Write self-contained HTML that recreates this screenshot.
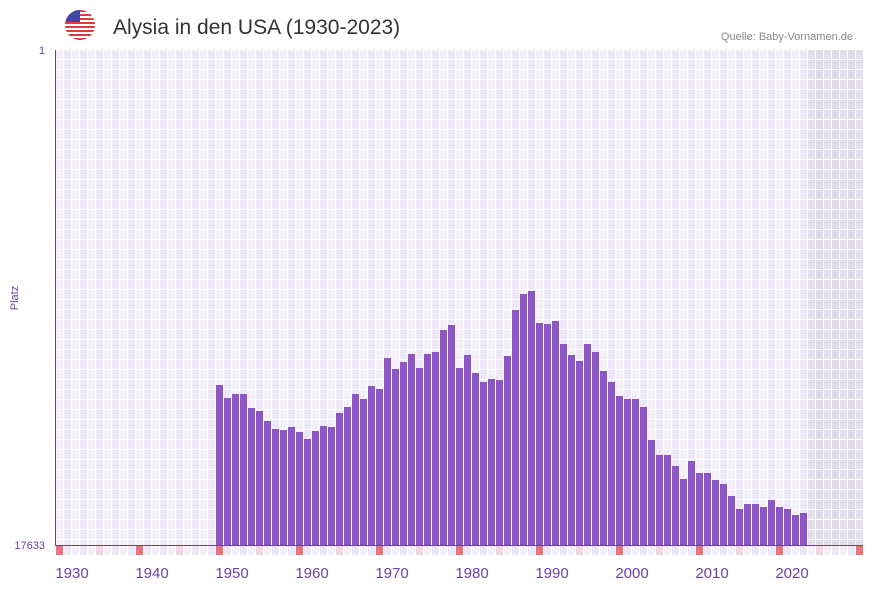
<!DOCTYPE html>
<html><head><meta charset="utf-8"><style>
body{margin:0;background:#fff;width:873px;height:587px;overflow:hidden;font-family:"Liberation Sans",sans-serif}
</style></head><body>
<svg id="s" width="873" height="587" xmlns="http://www.w3.org/2000/svg">
<defs><clipPath id="c"><circle cx="80" cy="25" r="15"/></clipPath></defs>
<g clip-path="url(#c)">
<rect x="65" y="10" width="30" height="30" fill="#fff"/>
<rect x="65" y="10" width="30" height="2" fill="#e03a3e"/>
<rect x="65" y="14" width="30" height="2" fill="#e03a3e"/>
<rect x="65" y="18" width="30" height="2" fill="#e03a3e"/>
<rect x="65" y="22" width="30" height="2" fill="#e03a3e"/>
<rect x="65" y="26" width="30" height="2" fill="#e03a3e"/>
<rect x="65" y="30" width="30" height="2" fill="#e03a3e"/>
<rect x="65" y="34" width="30" height="2" fill="#e03a3e"/>
<rect x="65" y="38" width="30" height="2" fill="#e03a3e"/>
<rect x="65" y="10" width="15" height="12" fill="#3c4a9c"/>
</g>
<text x="113" y="34" font-size="21" fill="#333">Alysia in den USA (1930-2023)</text>
<text x="853" y="40" font-size="11" fill="#888" text-anchor="end">Quelle: Baby-Vornamen.de</text>
<text x="45" y="54" font-size="11" fill="#6b3fa0" text-anchor="end">1</text>
<text x="45" y="549" font-size="11" fill="#6b3fa0" text-anchor="end">17633</text>
<text x="18" y="298" font-size="11" fill="#6b3fa0" text-anchor="middle" transform="rotate(-90 18 298)">Platz</text>
<g id="g"></g>
<line x1="55.5" y1="50" x2="55.5" y2="546" stroke="#6b3fa0" stroke-width="1"/>
<line x1="55" y1="545.5" x2="863" y2="545.5" stroke="#6b3fa0" stroke-width="1"/>
</svg>
<script>
var g=document.getElementById('g'),h='';
for(var i=0;i<101;i++){var x=56+i*8,y=1928+i;
 var col=(i%2)?'#ede8f8':'#f3f0fb'; if(y>=2022) col=(i%2)?'#e0dbea':'#e4dfed';
 h+='<rect x="'+x+'" y="50" width="7" height="495" fill="'+col+'"/>';
 var m=(y%10==8)?'#e8737a':(y%10==3?'#f5d6e0':(i%2?'#ede8f8':'#f3f0fb'));
 h+='<rect x="'+x+'" y="546" width="7" height="9" fill="'+m+'"/>';
 if(y%10==0) h+='<text x="'+(x)+'" y="578" font-size="15" fill="#6b3fa0" text-anchor="middle">'+y+'</text>';
}
for(var r=59;r<545;r+=10) h+='<rect x="56" y="'+r+'" width="807" height="1" fill="#fff"/>';
var t=[385,398,394,394,408,411,421,429,430,427,432,439,431,426,427,413,407,394,399,386,389,358,369,362,354,368,354,352,330,325,368,355,373,382,379,380,356,310,294,291,323,324,321,344,355,361,344,352,371,382,396,399,399,407,440,455,455,466,479,461,473,473,480,484,496,509,504,504,507,500,507,509,515,513];
for(var k=0;k<t.length;k++){var x=56+(1948-1928+k)*8;h+='<rect x="'+x+'" y="'+t[k]+'" width="7" height="'+(545-t[k])+'" fill="#8e55c7"/>';}
g.innerHTML=h;
</script>
</body></html>
